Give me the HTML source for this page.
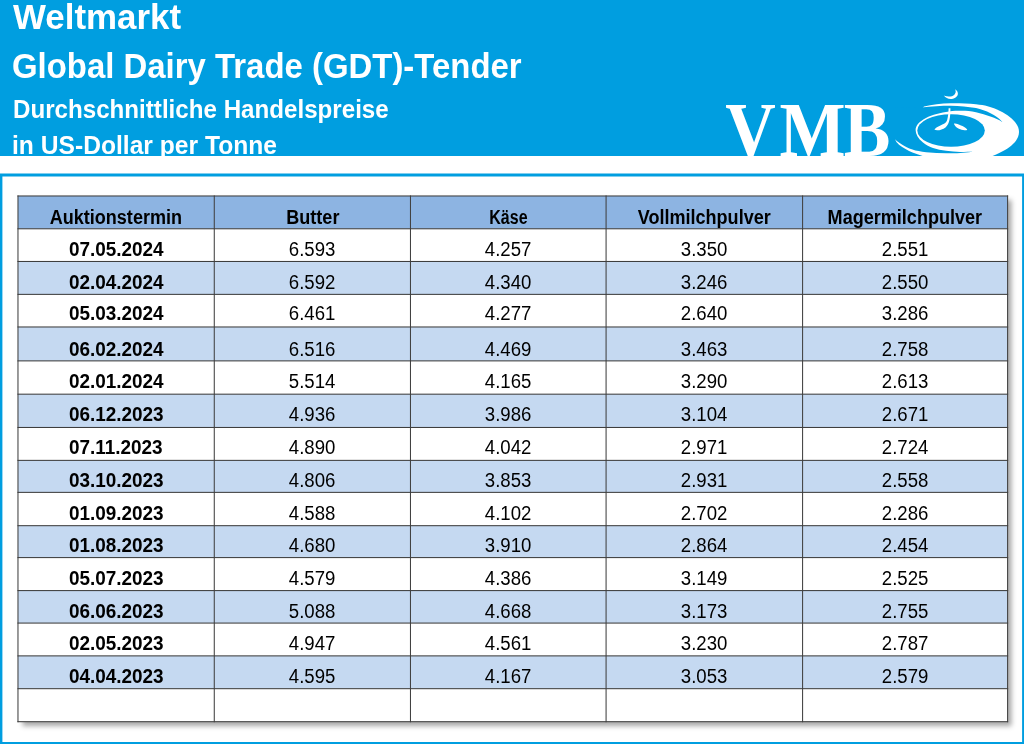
<!DOCTYPE html>
<html lang="de"><head><meta charset="utf-8"><title>Weltmarkt Global Dairy Trade (GDT)-Tender</title>
<style>
html,body{margin:0;padding:0;}
body{width:1024px;height:744px;overflow:hidden;background:#fff;position:relative;font-family:"Liberation Sans",sans-serif;}
#hdr{position:absolute;left:0;top:0;width:1024px;height:156px;background:#009EE0;overflow:hidden;}
.t{position:absolute;left:13px;color:#fff;font-weight:bold;white-space:nowrap;transform-origin:0 50%;line-height:1;}
#shadow{position:absolute;left:18.0px;top:196.0px;width:989.6px;height:525.7px;background:#fff;box-shadow:3.5px 4px 5px rgba(0,0,0,0.35);}
svg{position:absolute;left:0;top:0;}
#txt{position:absolute;left:0;top:0;width:1024px;height:744px;}
.r{position:absolute;left:0;width:1024px;}
.c{position:absolute;top:0;height:100%;text-align:center;white-space:nowrap;color:#000;font-size:18.3px;}
.c span{display:inline-block;position:relative;}
.b{font-weight:bold;}
.h span{font-size:19.6px;top:5.0px;transform:scaleX(0.921);}
.d span{font-size:19.3px;top:5.5px;transform:scaleX(0.981);}
.n span{font-size:19.3px;top:5.5px;transform:scaleX(0.965);}
</style></head><body>
<div id="hdr">
<div class="t" style="top:0px;font-size:34.4px;transform:scaleX(1.015)">Weltmarkt</div>
<div class="t" style="left:12.2px;top:49px;font-size:34.4px;transform:translateY(0.3px) scaleX(0.957)">Global Dairy Trade (GDT)-Tender</div>
<div class="t" style="left:12.5px;top:96px;font-size:25.4px;transform:translateY(0.5px) scaleX(0.951)">Durchschnittliche Handelspreise</div>
<div class="t" style="left:12.2px;top:133px;font-size:25.4px;transform:translateY(0.3px) scaleX(0.97)">in US-Dollar per Tonne</div>
<svg id="logo" width="1024" height="156" viewBox="0 0 1024 156" style="position:absolute;left:0;top:0;overflow:hidden">
<text font-family="'Liberation Serif',serif" font-weight="bold" font-size="800" fill="#fff" transform="translate(0 156) scale(0.0875 0.0982)" x="8288 8910 9644" y="0">VMB</text>
<path fill="#fff" d="M924,106.6 C932,104.6 941,103.3 950.5,103.2 C959,103.1 968,103.4 976,104.3 C985,105.3 991,106.8 997,109.5 C1005,113 1011,117 1015,122 C1019,127 1020,132 1018,137 C1016,142 1011,146.5 1005,150 C1000,152.8 996,154.5 988,158 L930,158 C925,157 918,154.5 912.5,152.6 C908,150.8 903,147.5 899,144.7 C897,143 896,141.5 895.1,139.6 Z"/>
<path fill="#009EE0" d="M921,107.4 C932,106.3 941,105.7 950.5,105.7 C960,105.7 968,106.6 976,108.1 C986,110.5 996,115 1002.3,121.9 L975,135 L972,151.8 C968,152.5 964,152.8 960.4,152.9 C955,153.2 950,153.3 946.7,153.25 C940,153.2 933,152.9 926.2,152.2 C921,151.6 916,150.8 912.5,149.5 C908,148 905,146.5 902.3,144.7 C899,142.8 897,141.5 895.1,139.6 L892,138.5 L892,107.2 Z"/>
<path fill="#fff" d="M1002.3,121.9 C998.5,119.6 995,118.3 991.1,116.8 C986,114.9 981,113.3 976,112.2 C971,111.2 966,110.8 962,110.8 C958,110.7 955,110.8 952.2,110.9 L949,111.4 C941,112.3 932,114.8 926,117.9 C919.5,121.3 915.6,125.5 915.6,129.7 C915.6,134 918,138.5 923,142.5 C926,145 929.5,146.8 933,148.1 C941,150.8 951,151.7 960.4,151.9 C964,152 968,151.9 972,151.8 L1000,150 L1010,125 Z"/>
<ellipse cx="951.05" cy="130.5" rx="33.75" ry="16.3" fill="#009EE0"/>
<g fill="#fff">
<path d="M948.6,108.3 L950.4,108.3 C950.5,112.5 950.2,116.5 949.5,119.8 C948.8,123 947.8,125.5 945.5,127.5 C943,129.5 939.5,130.4 937.2,130.3 C936,130.2 935,130 934.4,129.5 C935.2,128.3 936.5,127.4 937.9,126.7 C940,125.6 942,124.6 943.5,123.9 C945.5,123 946.8,121.8 947.3,119.5 C948.2,116 948.5,112 948.6,108.3 Z"/>
<path d="M954,123.5 C955.2,123.3 956.5,123.5 957.5,123.9 C960,124.8 962.2,125.8 963.8,126.7 C965.5,127.7 966.8,128.8 967.3,129.8 C966.5,130.3 965.5,130.4 964.5,130.2 C962.5,130 960.5,129.5 958.9,128.8 C957,127.9 955.5,126.7 954.7,125.3 C954.3,124.7 954.1,124.1 954,123.5 Z"/>
<path d="M943.8,95.5 C945.5,97.8 948,99.0 950.5,99.0 C954,99.0 957.2,97 957.8,94.5 C958.3,92.2 957,90.2 955,89.2 C955.8,90.4 955.9,91.8 955.4,93.1 C954.6,95.3 952.5,96.6 950.5,96.6 C948,96.6 945.5,96.3 943.8,95.5 Z"/>
</g>
</svg>

</div>
<div id="shadow"></div>
<svg id="grid" width="1024" height="744" viewBox="0 0 1024 744">
<path fill="#009EE0" fill-rule="evenodd" d="M-2,173.6 H1026 V746 H-2 Z M2.4,176.6 V741.9 H1022.1 V176.6 Z"/>
<rect x="18.0" y="196.0" width="989.6" height="32.8" fill="#8DB4E2"/>
<rect x="18.0" y="228.8" width="989.6" height="32.7" fill="#fff"/>
<rect x="18.0" y="261.5" width="989.6" height="32.9" fill="#C5D9F1"/>
<rect x="18.0" y="294.4" width="989.6" height="32.6" fill="#fff"/>
<rect x="18.0" y="327.0" width="989.6" height="33.9" fill="#C5D9F1"/>
<rect x="18.0" y="360.9" width="989.6" height="33.3" fill="#fff"/>
<rect x="18.0" y="394.2" width="989.6" height="33.3" fill="#C5D9F1"/>
<rect x="18.0" y="427.5" width="989.6" height="32.9" fill="#fff"/>
<rect x="18.0" y="460.4" width="989.6" height="32.0" fill="#C5D9F1"/>
<rect x="18.0" y="492.4" width="989.6" height="33.3" fill="#fff"/>
<rect x="18.0" y="525.7" width="989.6" height="31.9" fill="#C5D9F1"/>
<rect x="18.0" y="557.6" width="989.6" height="33.0" fill="#fff"/>
<rect x="18.0" y="590.6" width="989.6" height="32.5" fill="#C5D9F1"/>
<rect x="18.0" y="623.1" width="989.6" height="32.8" fill="#fff"/>
<rect x="18.0" y="655.9" width="989.6" height="32.8" fill="#C5D9F1"/>
<rect x="18.0" y="688.7" width="989.6" height="33.0" fill="#fff"/>
<rect x="17.45" y="195.45" width="1.05" height="526.8" fill="#424242"/>
<rect x="213.75" y="195.45" width="1.05" height="526.8" fill="#424242"/>
<rect x="409.95" y="195.45" width="1.05" height="526.8" fill="#424242"/>
<rect x="605.55" y="195.45" width="1.05" height="526.8" fill="#424242"/>
<rect x="802.05" y="195.45" width="1.05" height="526.8" fill="#424242"/>
<rect x="1007.05" y="195.45" width="1.05" height="526.8" fill="#424242"/>
<rect x="17.45" y="195.45" width="990.7" height="1.05" fill="#3e3e3e"/>
<rect x="17.45" y="228.25" width="990.7" height="1.05" fill="#3e3e3e"/>
<rect x="17.45" y="260.95" width="990.7" height="1.05" fill="#3e3e3e"/>
<rect x="17.45" y="293.85" width="990.7" height="1.05" fill="#3e3e3e"/>
<rect x="17.45" y="326.45" width="990.7" height="1.05" fill="#3e3e3e"/>
<rect x="17.45" y="360.35" width="990.7" height="1.05" fill="#3e3e3e"/>
<rect x="17.45" y="393.65" width="990.7" height="1.05" fill="#3e3e3e"/>
<rect x="17.45" y="426.95" width="990.7" height="1.05" fill="#3e3e3e"/>
<rect x="17.45" y="459.85" width="990.7" height="1.05" fill="#3e3e3e"/>
<rect x="17.45" y="491.85" width="990.7" height="1.05" fill="#3e3e3e"/>
<rect x="17.45" y="525.15" width="990.7" height="1.05" fill="#3e3e3e"/>
<rect x="17.45" y="557.05" width="990.7" height="1.05" fill="#3e3e3e"/>
<rect x="17.45" y="590.05" width="990.7" height="1.05" fill="#3e3e3e"/>
<rect x="17.45" y="622.55" width="990.7" height="1.05" fill="#3e3e3e"/>
<rect x="17.45" y="655.35" width="990.7" height="1.05" fill="#3e3e3e"/>
<rect x="17.45" y="688.15" width="990.7" height="1.05" fill="#3e3e3e"/>
<rect x="17.45" y="721.15" width="990.7" height="1.05" fill="#3e3e3e"/>
</svg>
<div id="txt">
<div class="r" style="top:195px;height:33px;line-height:33px;transform:translateY(0.80px)">
<div class="c b h" style="left:18.0px;width:196.3px"><span>Auktionstermin</span></div>
<div class="c b h" style="left:214.3px;width:196.2px"><span>Butter</span></div>
<div class="c b h" style="left:410.5px;width:195.6px"><span style="transform:scaleX(0.816)">Käse</span></div>
<div class="c b h" style="left:606.1px;width:196.5px"><span>Vollmilchpulver</span></div>
<div class="c b h" style="left:802.6px;width:205.0px"><span>Magermilchpulver</span></div>
</div>
<div class="r" style="top:227px;height:33px;line-height:33px;transform:translateY(0.00px)">
<div class="c b d" style="left:18.0px;width:196.3px"><span>07.05.2024</span></div>
<div class="c n" style="left:214.3px;width:196.2px"><span>6.593</span></div>
<div class="c n" style="left:410.5px;width:195.6px"><span>4.257</span></div>
<div class="c n" style="left:606.1px;width:196.5px"><span>3.350</span></div>
<div class="c n" style="left:802.6px;width:205.0px"><span>2.551</span></div>
</div>
<div class="r" style="top:259px;height:33px;line-height:33px;transform:translateY(0.90px)">
<div class="c b d" style="left:18.0px;width:196.3px"><span>02.04.2024</span></div>
<div class="c n" style="left:214.3px;width:196.2px"><span>6.592</span></div>
<div class="c n" style="left:410.5px;width:195.6px"><span>4.340</span></div>
<div class="c n" style="left:606.1px;width:196.5px"><span>3.246</span></div>
<div class="c n" style="left:802.6px;width:205.0px"><span>2.550</span></div>
</div>
<div class="r" style="top:291px;height:33px;line-height:33px;transform:translateY(0.30px)">
<div class="c b d" style="left:18.0px;width:196.3px"><span>05.03.2024</span></div>
<div class="c n" style="left:214.3px;width:196.2px"><span>6.461</span></div>
<div class="c n" style="left:410.5px;width:195.6px"><span>4.277</span></div>
<div class="c n" style="left:606.1px;width:196.5px"><span>2.640</span></div>
<div class="c n" style="left:802.6px;width:205.0px"><span>3.286</span></div>
</div>
<div class="r" style="top:326px;height:33px;line-height:33px;transform:translateY(0.90px)">
<div class="c b d" style="left:18.0px;width:196.3px"><span>06.02.2024</span></div>
<div class="c n" style="left:214.3px;width:196.2px"><span>6.516</span></div>
<div class="c n" style="left:410.5px;width:195.6px"><span>4.469</span></div>
<div class="c n" style="left:606.1px;width:196.5px"><span>3.463</span></div>
<div class="c n" style="left:802.6px;width:205.0px"><span>2.758</span></div>
</div>
<div class="r" style="top:359px;height:33px;line-height:33px;transform:translateY(0.00px)">
<div class="c b d" style="left:18.0px;width:196.3px"><span>02.01.2024</span></div>
<div class="c n" style="left:214.3px;width:196.2px"><span>5.514</span></div>
<div class="c n" style="left:410.5px;width:195.6px"><span>4.165</span></div>
<div class="c n" style="left:606.1px;width:196.5px"><span>3.290</span></div>
<div class="c n" style="left:802.6px;width:205.0px"><span>2.613</span></div>
</div>
<div class="r" style="top:391px;height:33px;line-height:33px;transform:translateY(0.60px)">
<div class="c b d" style="left:18.0px;width:196.3px"><span>06.12.2023</span></div>
<div class="c n" style="left:214.3px;width:196.2px"><span>4.936</span></div>
<div class="c n" style="left:410.5px;width:195.6px"><span>3.986</span></div>
<div class="c n" style="left:606.1px;width:196.5px"><span>3.104</span></div>
<div class="c n" style="left:802.6px;width:205.0px"><span>2.671</span></div>
</div>
<div class="r" style="top:424px;height:33px;line-height:33px;transform:translateY(0.80px)">
<div class="c b d" style="left:18.0px;width:196.3px"><span>07.11.2023</span></div>
<div class="c n" style="left:214.3px;width:196.2px"><span>4.890</span></div>
<div class="c n" style="left:410.5px;width:195.6px"><span>4.042</span></div>
<div class="c n" style="left:606.1px;width:196.5px"><span>2.971</span></div>
<div class="c n" style="left:802.6px;width:205.0px"><span>2.724</span></div>
</div>
<div class="r" style="top:457px;height:33px;line-height:33px;transform:translateY(0.50px)">
<div class="c b d" style="left:18.0px;width:196.3px"><span>03.10.2023</span></div>
<div class="c n" style="left:214.3px;width:196.2px"><span>4.806</span></div>
<div class="c n" style="left:410.5px;width:195.6px"><span>3.853</span></div>
<div class="c n" style="left:606.1px;width:196.5px"><span>2.931</span></div>
<div class="c n" style="left:802.6px;width:205.0px"><span>2.558</span></div>
</div>
<div class="r" style="top:490px;height:33px;line-height:33px;transform:translateY(0.60px)">
<div class="c b d" style="left:18.0px;width:196.3px"><span>01.09.2023</span></div>
<div class="c n" style="left:214.3px;width:196.2px"><span>4.588</span></div>
<div class="c n" style="left:410.5px;width:195.6px"><span>4.102</span></div>
<div class="c n" style="left:606.1px;width:196.5px"><span>2.702</span></div>
<div class="c n" style="left:802.6px;width:205.0px"><span>2.286</span></div>
</div>
<div class="r" style="top:523px;height:33px;line-height:33px;transform:translateY(0.00px)">
<div class="c b d" style="left:18.0px;width:196.3px"><span>01.08.2023</span></div>
<div class="c n" style="left:214.3px;width:196.2px"><span>4.680</span></div>
<div class="c n" style="left:410.5px;width:195.6px"><span>3.910</span></div>
<div class="c n" style="left:606.1px;width:196.5px"><span>2.864</span></div>
<div class="c n" style="left:802.6px;width:205.0px"><span>2.454</span></div>
</div>
<div class="r" style="top:555px;height:33px;line-height:33px;transform:translateY(0.90px)">
<div class="c b d" style="left:18.0px;width:196.3px"><span>05.07.2023</span></div>
<div class="c n" style="left:214.3px;width:196.2px"><span>4.579</span></div>
<div class="c n" style="left:410.5px;width:195.6px"><span>4.386</span></div>
<div class="c n" style="left:606.1px;width:196.5px"><span>3.149</span></div>
<div class="c n" style="left:802.6px;width:205.0px"><span>2.525</span></div>
</div>
<div class="r" style="top:588px;height:33px;line-height:33px;transform:translateY(0.60px)">
<div class="c b d" style="left:18.0px;width:196.3px"><span>06.06.2023</span></div>
<div class="c n" style="left:214.3px;width:196.2px"><span>5.088</span></div>
<div class="c n" style="left:410.5px;width:195.6px"><span>4.668</span></div>
<div class="c n" style="left:606.1px;width:196.5px"><span>3.173</span></div>
<div class="c n" style="left:802.6px;width:205.0px"><span>2.755</span></div>
</div>
<div class="r" style="top:621px;height:33px;line-height:33px;transform:translateY(0.20px)">
<div class="c b d" style="left:18.0px;width:196.3px"><span>02.05.2023</span></div>
<div class="c n" style="left:214.3px;width:196.2px"><span>4.947</span></div>
<div class="c n" style="left:410.5px;width:195.6px"><span>4.561</span></div>
<div class="c n" style="left:606.1px;width:196.5px"><span>3.230</span></div>
<div class="c n" style="left:802.6px;width:205.0px"><span>2.787</span></div>
</div>
<div class="r" style="top:654px;height:33px;line-height:33px;transform:translateY(0.10px)">
<div class="c b d" style="left:18.0px;width:196.3px"><span>04.04.2023</span></div>
<div class="c n" style="left:214.3px;width:196.2px"><span>4.595</span></div>
<div class="c n" style="left:410.5px;width:195.6px"><span>4.167</span></div>
<div class="c n" style="left:606.1px;width:196.5px"><span>3.053</span></div>
<div class="c n" style="left:802.6px;width:205.0px"><span>2.579</span></div>
</div>
</div>
</body></html>
